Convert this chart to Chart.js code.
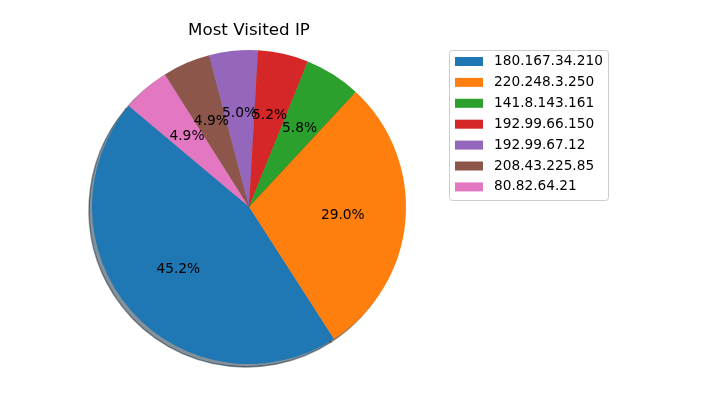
<!DOCTYPE html>
<html>
<head>
<meta charset="utf-8">
<script src="https://cdn.jsdelivr.net/npm/chart.js@4/dist/chart.umd.min.js"></script>
<style>
html, body { margin: 0; padding: 0; background: #fff; }
</style>
</head>
<body>
<canvas id="ctx" width="715" height="395"></canvas>
<script>
// data (matplotlib order, counter-clockwise from 140deg)
var ips = ["180.167.34.210", "220.248.3.250", "141.8.143.161", "192.99.66.150", "192.99.67.12", "208.43.225.85", "80.82.64.21"];
var shares = [45.2, 29.0, 5.8, 5.2, 5.0, 4.9, 4.9];
var colors = ['#1f77b4', '#ff7f0e', '#2ca02c', '#d62728', '#9467bd', '#8c564b', '#e377c2'];

// chart.js draws clockwise, so feed the slices reversed
var drawLabels = ips.slice().reverse();
var drawShares = shares.slice().reverse();
var drawColors = colors.slice().reverse();

var FONT = 'DejaVu Sans';

function shade(hex) {
    var n = parseInt(hex.slice(1), 16);
    var r = (n >> 16) & 255, g = (n >> 8) & 255, b = n & 255;
    return 'rgba(' + Math.round(r * 0.3) + ',' + Math.round(g * 0.3) + ',' + Math.round(b * 0.3) + ',0.5)';
}

var shadowPlugin = {
    id: 'shadow',
    beforeDatasetsDraw: function (chart) {
        var c = chart.ctx;
        var arcs = chart.getDatasetMeta(0).data;
        c.save();
        arcs.forEach(function (arc, i) {
            var p = arc.getProps(['x', 'y', 'startAngle', 'endAngle', 'outerRadius']);
            var col = shade(drawColors[i]);
            c.beginPath();
            c.moveTo(p.x - 3, p.y + 3);
            c.arc(p.x - 3, p.y + 3, p.outerRadius, p.startAngle, p.endAngle);
            c.closePath();
            c.fillStyle = col;
            c.fill();
            c.lineWidth = 1.4;
            c.strokeStyle = col;
            c.stroke();
        });
        c.restore();
    }
};

var pctPlugin = {
    id: 'pct',
    afterDatasetsDraw: function (chart) {
        var c = chart.ctx;
        var arcs = chart.getDatasetMeta(0).data;
        c.save();
        c.font = '13.8px "' + FONT + '"';
        c.fillStyle = '#000';
        c.textAlign = 'center';
        c.textBaseline = 'middle';
        for (var i = arcs.length - 1; i >= 0; i--) {
            var p = arcs[i].getProps(['x', 'y', 'startAngle', 'endAngle', 'outerRadius']);
            var mid = (p.startAngle + p.endAngle) / 2;
            var r = p.outerRadius * 0.6;
            c.fillText(drawShares[i].toFixed(1) + '%', p.x + r * Math.cos(mid), p.y + r * Math.sin(mid) + 0.5);
        }
        c.restore();
    }
};

var legendPlugin = {
    id: 'boxLegend',
    afterDraw: function (chart) {
        var c = chart.ctx;
        c.save();
        // frame
        var x0 = 449.5, y0 = 50.5, w = 159, h = 150, rad = 3;
        c.beginPath();
        c.roundRect(x0, y0, w, h, rad);
        c.fillStyle = 'rgba(255,255,255,0.8)';
        c.fill();
        c.lineWidth = 1;
        c.strokeStyle = '#cccccc';
        c.stroke();
        c.font = '13.7px "' + FONT + '"';
        c.textAlign = 'left';
        c.textBaseline = 'middle';
        for (var i = 0; i < ips.length; i++) {
            var yc = 61.5 + i * 20.9;
            c.fillStyle = colors[i];
            c.fillRect(455, yc - 4.5, 28, 9);
            c.fillStyle = '#000';
            c.fillText(ips[i], 494, yc);
        }
        c.restore();
    }
};

var ctx = document.getElementById('ctx').getContext('2d');

var myChart = new Chart(ctx, {
    type: 'pie',
    data: {
        labels: drawLabels,
        datasets: [{
            data: drawShares,
            backgroundColor: drawColors,
            borderWidth: 0
        }]
    },
    options: {
        responsive: false,
        animation: false,
        events: [],
        rotation: -50,
        layout: {
            padding: { left: 92, right: 309, top: 21, bottom: 31 }
        },
        plugins: {
            legend: { display: false },
            tooltip: { enabled: false },
            title: {
                display: true,
                text: 'Most Visited IP',
                color: '#000',
                font: { family: FONT, size: 16.7, weight: 'normal' },
                padding: { top: 0, bottom: 9 }
            }
        }
    },
    plugins: [shadowPlugin, pctPlugin, legendPlugin]
});
</script>
</body>
</html>
